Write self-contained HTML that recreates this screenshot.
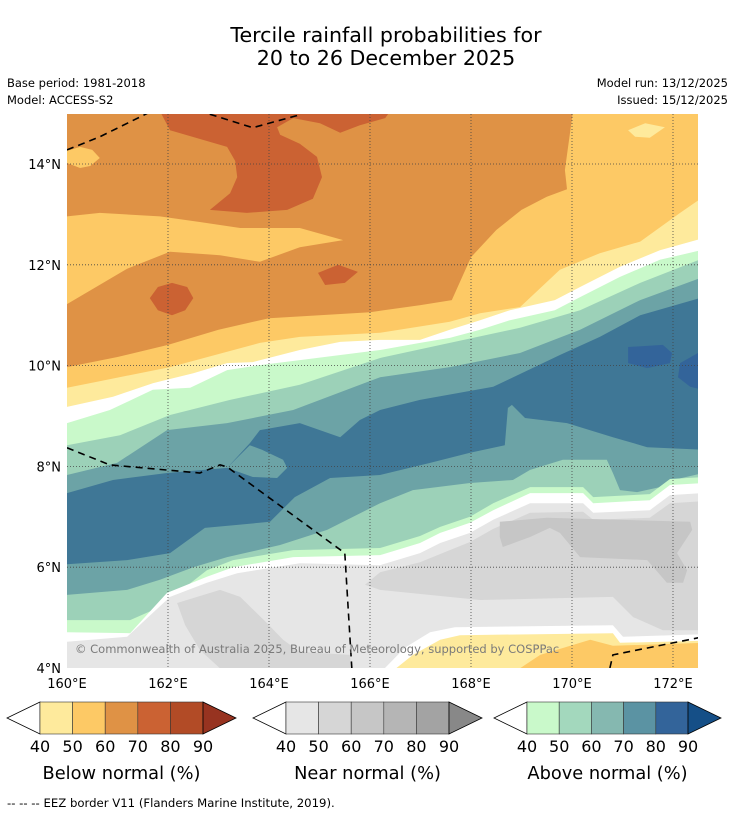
<!DOCTYPE html>
<html><head><meta charset="utf-8"><style>
html,body{margin:0;padding:0;background:#fff}
svg{display:block;font-family:"DejaVu Sans","Liberation Sans",sans-serif}
</style></head><body>
<svg id="fig" width="736" height="816" viewBox="0 0 736 816" xmlns="http://www.w3.org/2000/svg">
<text x="386" y="42" text-anchor="middle" font-size="20.6">Tercile rainfall probabilities for</text>
<text x="386" y="65" text-anchor="middle" font-size="20.6">20 to 26 December 2025</text>
<text x="7" y="87" font-size="11.5">Base period: 1981-2018</text>
<text x="7" y="104" font-size="11.5">Model: ACCESS-S2</text>
<text x="728" y="87" font-size="11.5" text-anchor="end">Model run: 13/12/2025</text>
<text x="728" y="104" font-size="11.5" text-anchor="end">Issued: 15/12/2025</text>
<defs><clipPath id="mapclip"><rect x="67" y="114" width="631" height="554"/></clipPath></defs>
<g id="map" clip-path="url(#mapclip)"></g>
<g id="axes"></g>
<g id="cbars"></g>
<text x="7" y="807" font-size="11.7">--  --  -- EEZ border V11 (Flanders Marine Institute, 2019).</text>
</svg>
<script>
const lonTicks=[160,162,164,166,168,170,172];
const latTicks=[4,6,8,10,12,14];
const cbLevels=[40,50,60,70,80,90];
const belowColors=["#feea9c","#fdc965","#df9245","#cb6233","#b24b26"];
const nearColors=["#e6e6e6","#d6d6d6","#c6c6c6","#b5b5b5","#a3a3a3"];
const aboveColors=["#c9f9ca","#a3d8bd","#85b8b0","#5b93a3","#33649a"];
const yellowBelow=[[160,9.97],[161,10.17],[162,10.41],[163,10.71],[164,10.94],[165,11.0],[166,11.06],[167,11.2],[167.62,11.3],[168,12.15],[168.5,12.69],[169,13.09],[169.5,13.35],[169.9,13.5],[169.86,13.88],[170.02,15.05],[172.6,15.05]];
const lightYellowBelow=[[160,9.56],[162.04,9.97],[163.82,10.45],[164.61,10.57],[166.2,10.65],[167.58,10.87],[168.18,11.04],[168.97,11.16],[169.76,11.9],[170.55,12.23],[171.35,12.46],[172.14,13.03],[172.6,13.35]];
const whiteBelow=[[160,9.18],[160.91,9.38],[161.7,9.65],[162.5,9.85],[163.17,10.05],[163.68,10.07],[164.61,10.31],[165.41,10.47],[166.2,10.51],[166.99,10.51],[167.58,10.71],[168.18,10.9],[168.77,11.1],[169.66,11.3],[170.16,11.56],[170.95,11.96],[171.74,12.29],[172.6,12.53]];
const lightGreenBelow=[[160,8.86],[160.85,9.12],[161.7,9.52],[162.44,9.56],[163.17,9.91],[163.82,10.01],[164.61,10.11],[166.2,10.31],[166.99,10.45],[167.58,10.55],[168.18,10.71],[168.77,10.9],[169.66,11.1],[170.16,11.36],[170.95,11.76],[171.74,12.1],[172.6,12.3]];
const midGreenBelow=[[160,8.42],[161.05,8.62],[162.04,9.02],[163.23,9.32],[164.61,9.62],[166.2,10.15],[167.58,10.45],[168.97,10.75],[170.16,11.1],[171.35,11.64],[172.6,12.13]];
const tealBelow=[[160,7.83],[160.99,8.07],[161.98,8.72],[163.17,8.86],[164.48,9.12],[166.2,9.77],[167.58,9.97],[168.97,10.25],[170.16,10.71],[171.35,11.3],[172.6,11.76]];
const blueBelow=[[160,7.47],[160.91,7.73],[161.98,7.87],[163.17,7.97],[163.62,8.46],[163.82,8.72],[164.61,8.86],[165.41,8.58],[165.8,8.92],[166.2,9.12],[166.99,9.32],[168.44,9.58],[169.76,10.21],[170.55,10.57],[171.35,11.0],[172.6,11.36]];
const tealWedge=[[163.17,7.97],[163.62,8.42],[163.86,8.33],[164.28,8.13],[164.36,7.97],[164.16,7.77],[163.68,7.79]];
const tealLowerBelow=[[160,6.06],[161.19,6.14],[162.04,6.28],[162.73,6.78],[164.02,6.9],[164.51,7.39],[165.21,7.77],[166.2,7.83],[167.19,8.07],[167.98,8.27],[168.67,8.42],[168.73,9.16],[168.81,9.22],[169.07,8.96],[169.9,8.86],[170.81,8.58],[171.49,8.38],[172.6,8.33]];
const midGreenLowerBelow=[[160,5.45],[161.19,5.55],[161.84,5.75],[162.5,6.0],[163.17,6.2],[164.22,6.44],[165.15,6.74],[166.2,7.27],[166.85,7.53],[167.98,7.67],[168.83,7.73],[169.17,7.93],[169.82,8.13],[170.69,8.13],[170.81,7.87],[170.95,7.53],[171.29,7.49],[171.74,7.59],[172,7.73],[172.6,7.87]];
const lightGreenLowerBelow=[[160,4.95],[161.25,4.95],[161.84,5.21],[162.77,5.94],[163.29,6.14],[164.48,6.34],[166.2,6.38],[166.99,6.62],[167.39,6.8],[167.98,7.0],[168.44,7.27],[169.17,7.59],[170.22,7.59],[170.42,7.39],[171.54,7.45],[171.94,7.75],[172.6,7.79]];
const whiteLowerBelow=[[160,4.71],[161.25,4.69],[161.98,5.49],[162.77,5.81],[163.29,6.0],[164.48,6.2],[166.2,6.24],[166.99,6.48],[167.39,6.68],[167.98,6.88],[168.44,7.13],[169.17,7.47],[170.22,7.47],[170.42,7.27],[171.54,7.33],[171.94,7.63],[172.6,7.67]];
const near40Below=[[160,4.52],[161.19,4.62],[162.04,5.41],[162.77,5.69],[163.37,5.88],[164.61,6.08],[166.2,6.04],[166.99,6.28],[167.39,6.48],[167.98,6.68],[168.44,6.94],[169.17,7.27],[170.22,7.27],[170.42,7.08],[171.54,7.13],[171.94,7.43],[172.6,7.47]];
const near50West=[[162.18,5.29],[163.03,5.55],[163.43,5.41],[163.96,4.89],[164.28,4.56],[164.61,4.32],[165.6,4.26],[165.64,3.9],[163.13,3.9],[162.63,4.36],[162.34,4.85]];
const near50East=[[165.9,5.65],[166.2,5.9],[166.99,6.1],[167.58,6.34],[167.98,6.5],[168.44,6.76],[169.17,7.08],[170.22,7.1],[170.42,6.94],[171.54,6.98],[171.94,7.27],[172.6,7.31],[172.6,4.75],[171.8,4.75],[171.21,5.01],[170.81,5.41],[168.18,5.35],[166.2,5.55]];
const near60East=[[168.57,6.9],[169.5,6.98],[172.34,6.9],[172.38,6.74],[172.08,6.28],[172.28,5.94],[172.2,5.69],[171.88,5.69],[171.49,6.14],[170.16,6.2],[169.76,6.68],[169.56,6.78],[169.17,6.6],[168.63,6.4],[168.57,6.6]];
const whiteSouth=[[166.2,3.9],[166.69,4.4],[167.19,4.71],[167.68,4.81],[170.81,4.85],[171.01,4.62],[172.6,4.67],[172.6,3.9]];
const lightYellowSouth=[[166.4,3.9],[166.85,4.26],[167.39,4.56],[167.78,4.65],[170.81,4.69],[170.95,4.5],[172.6,4.54],[172.6,3.9]];
const yellowSouth=[[168.83,3.9],[169.37,4.26],[169.9,4.42],[170.36,4.56],[170.81,4.44],[172.6,4.5],[172.6,3.9]];
const yellowTopLeft=[[160,14.26],[160.26,14.34],[160.5,14.28],[160.65,14.12],[160.46,13.96],[160.26,13.92],[160,14.02]];
const yellowTongue=[[159.9,12.95],[160.65,13.03],[161.84,12.96],[162.63,12.85],[163.43,12.73],[164.61,12.73],[165.47,12.49],[164.61,12.35],[163.82,12.06],[163.03,12.19],[162.04,12.26],[161.19,11.92],[159.9,11.16]];
const darkOrangeTop=[[161.84,15.05],[162.04,14.67],[163.17,14.34],[163.33,14.06],[163.37,13.74],[163.23,13.42],[162.83,13.09],[163.56,13.03],[164.36,13.09],[164.87,13.31],[165.05,13.74],[164.95,14.14],[164.61,14.4],[164.22,14.58],[164.16,14.73],[164.48,14.91],[165.01,14.81],[165.41,14.62],[165.8,14.77],[166.3,14.91],[166.4,15.05]];
const darkOrangeWest=[[161.64,11.34],[161.8,11.56],[162.08,11.64],[162.38,11.56],[162.5,11.34],[162.34,11.1],[162.08,11.0],[161.8,11.1]];
const darkOrangeMid=[[164.97,11.84],[165.37,12.0],[165.76,11.86],[165.5,11.64],[165.11,11.6]];
const lightYellowTopRight=[[171.11,14.67],[171.45,14.81],[171.84,14.73],[171.54,14.52],[171.25,14.54]];
const darkBlueEast=[[171.11,10.37],[171.8,10.41],[171.98,10.25],[171.94,10.05],[171.49,9.95],[171.11,10.05]];
const darkBlueEdge=[[172.6,10.31],[172.14,10.05],[172.1,9.77],[172.34,9.58],[172.6,9.52]];
const eezTop1=[[160,14.28],[160.65,14.54],[161.5,14.96],[161.7,15.06]];
const eezTop2=[[162.6,15.06],[163.68,14.72],[164.55,14.96],[164.75,15.06]];
const eezMid=[[160,8.37],[160.85,8.03],[162.63,7.87],[163.03,8.03],[163.17,7.99],[165.5,6.28],[165.64,4]];
const eezSouthEast=[[170.75,4],[170.81,4.26],[172.5,4.6]];

const X=lon=>67+(lon-160)*50.5;
const Y=lat=>668-(lat-4)*50.4;
const NS="http://www.w3.org/2000/svg";
const map=document.getElementById('map'), axes=document.getElementById('axes'), cb=document.getElementById('cbars');
function mk(tag,parent,attrs){const e=document.createElementNS(NS,tag);for(const k in attrs)e.setAttribute(k,attrs[k]);parent.appendChild(e);return e;}
function ptsStr(arr){return arr.map(p=>X(p[0]).toFixed(1)+','+Y(p[1]).toFixed(1)).join(' ');}
function poly(arr,color,name){const e=mk('polygon',map,{points:ptsStr(arr),fill:color});

}
function below(arr,color,name){const a=arr.slice();a.push([172.7,arr[arr.length-1][1]],[172.7,3.8],[159.9,3.8],[159.9,arr[0][1]]);poly(a,color,name);}

const bg=mk('rect',map,{x:67,y:114,width:631,height:554,fill:"#df9245"});


poly(yellowTopLeft,"#fdc965","below-50-60-patch-nw");
poly(darkOrangeTop,"#cb6233","below-70-80-region-north");
poly(yellowTongue,"#fdc965","below-50-60-tongue");
poly(darkOrangeWest,"#cb6233","below-70-80-patch-west");
poly(darkOrangeMid,"#cb6233","below-70-80-patch-mid");
below(yellowBelow,"#fdc965","below-50-60-band");
poly(lightYellowTopRight,"#feea9c","below-40-50-patch-ne");
below(lightYellowBelow,"#feea9c","below-40-50-band");
below(whiteBelow,"#ffffff","no-dominant-band");
below(lightGreenBelow,"#c9f9ca","above-40-50-band");
below(midGreenBelow,"#9cd1b8","above-50-60-band");
below(tealBelow,"#6ca3a6","above-60-70-band");
below(blueBelow,"#3f7796","above-70-80-region");
poly(tealWedge,"#6ca3a6","above-60-70-wedge");
poly(darkBlueEast,"#33649a","above-80-90-patch");
poly(darkBlueEdge,"#33649a","above-80-90-patch-edge");
below(tealLowerBelow,"#6ca3a6","above-60-70-band-south");
below(midGreenLowerBelow,"#9cd1b8","above-50-60-band-south");
below(lightGreenLowerBelow,"#c9f9ca","above-40-50-band-south");
below(whiteLowerBelow,"#ffffff","no-dominant-band-south");
below(near40Below,"#e6e6e6","near-40-50-region");
poly(near50West,"#d6d6d6","near-50-60-patch-west");
poly(near50East,"#d6d6d6","near-50-60-region-east");
poly(near60East,"#c6c6c6","near-60-70-patch");
poly(whiteSouth,"#ffffff","no-dominant-strip-se");
poly(lightYellowSouth,"#feea9c","below-40-50-strip-se");
poly(yellowSouth,"#fdc965","below-50-60-strip-se");

lonTicks.forEach(l=>{if(l>160){const g=mk('line',map,{x1:X(l),x2:X(l),y1:114,y2:668,stroke:"#444","stroke-width":0.8,"stroke-dasharray":"1 2"});

}});
latTicks.forEach(l=>{if(l>4){const g=mk('line',map,{x1:67,x2:698,y1:Y(l),y2:Y(l),stroke:"#444","stroke-width":0.8,"stroke-dasharray":"1 2"});

}});
[eezTop1,eezTop2,eezMid,eezSouthEast].forEach(a=>{const e=mk('polyline',map,{points:ptsStr(a),fill:"none",stroke:"#000","stroke-width":1.6,"stroke-dasharray":"7 5"});

});
const cp=mk('text',map,{x:75,y:653,"font-size":11.5,fill:"#7a7a7a"});
cp.textContent="© Commonwealth of Australia 2025, Bureau of Meteorology, supported by COSPPac";



lonTicks.forEach(l=>{const t=mk('text',axes,{x:X(l),y:688,"font-size":13,"text-anchor":"middle"});t.textContent=l+"°E";

});
latTicks.forEach(l=>{const t=mk('text',axes,{x:61,y:Y(l)+5,"font-size":13,"text-anchor":"end"});t.textContent=l+"°N";

});

function colorbar(x0,x1,colors,arrowColor,title,name){
  const g=mk('g',cb,{});
  
  
  const top=702,bot=734,mid=718,aw=33;
  const sx=v=>x0+(v-cbLevels[0])/(cbLevels[cbLevels.length-1]-cbLevels[0])*(x1-x0);
  const la=mk('polygon',g,{points:`${x0},${top} ${x0-aw},${mid} ${x0},${bot}`,fill:"#fff",stroke:"#000","stroke-width":0.8});
  
  
  colors.forEach((c,i)=>{const r=mk('rect',g,{x:sx(cbLevels[i]),y:top,width:sx(cbLevels[i+1])-sx(cbLevels[i]),height:bot-top,fill:c,stroke:"#333","stroke-width":0.6});
  
  });
  const ra=mk('polygon',g,{points:`${x1},${top} ${x1+aw},${mid} ${x1},${bot}`,fill:arrowColor,stroke:"#000","stroke-width":0.8});
  
  
  cbLevels.forEach(v=>{const t=mk('text',g,{x:sx(v),y:752,"font-size":16,"text-anchor":"middle"});t.textContent=v;
  
  });
  const tt=mk('text',g,{x:(x0+x1)/2,y:779,"font-size":17.8,"text-anchor":"middle"});tt.textContent=title;
  
  
}
colorbar(40,203,belowColors,"#973320","Below normal (%)","below-normal-colorbar");
colorbar(286,449,nearColors,"#888888","Near normal (%)","near-normal-colorbar");
colorbar(527,688,aboveColors,"#154f87","Above normal (%)","above-normal-colorbar");
</script>
</body></html>
